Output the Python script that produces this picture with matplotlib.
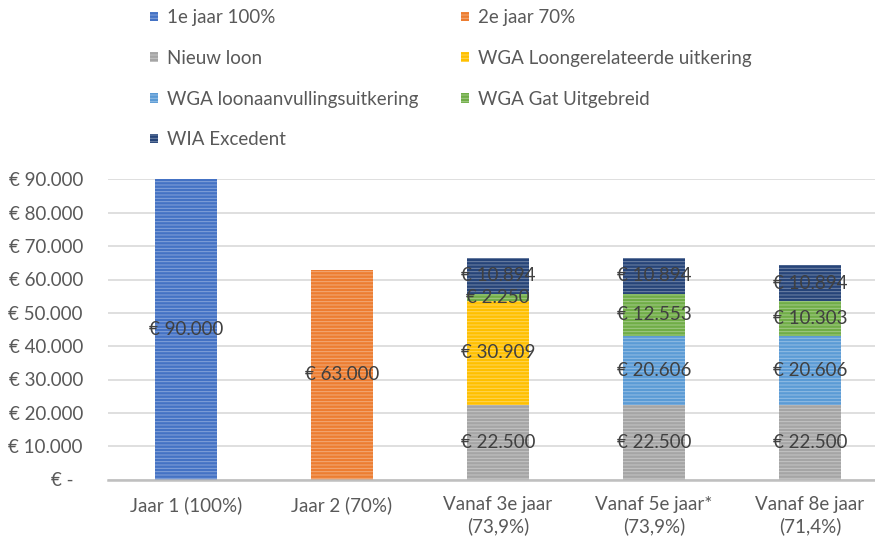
import numpy as np
import matplotlib.pyplot as plt
from matplotlib.colors import to_rgb

categories = ["Jaar 1 (100%)", "Jaar 2 (70%)", "Vanaf 3e jaar\n(73,9%)",
              "Vanaf 5e jaar*\n(73,9%)", "Vanaf 8e jaar\n(71,4%)"]

jaar1 = [90000, 0, 0, 0, 0]
jaar2 = [0, 63000, 0, 0, 0]
nieuw_loon = [0, 0, 22500, 22500, 22500]
wga_loongerelateerd = [0, 0, 30909, 0, 0]
wga_loonaanvulling = [0, 0, 0, 20606, 20606]
wga_gat = [0, 0, 2250, 12553, 10303]
wia_excedent = [0, 0, 10894, 10894, 10894]

series = [
    ("1e jaar 100%", jaar1, "#4472C4"),
    ("2e jaar 70%", jaar2, "#ED7D31"),
    ("Nieuw loon", nieuw_loon, "#A5A5A5"),
    ("WGA Loongerelateerde uitkering", wga_loongerelateerd, "#FFC000"),
    ("WGA loonaanvullingsuitkering", wga_loonaanvulling, "#5B9BD5"),
    ("WGA Gat Uitgebreid", wga_gat, "#70AD47"),
    ("WIA Excedent", wia_excedent, "#264478"),
]

y_ticks = list(range(0, 90001, 10000))


def euro(v):
    if v == 0:
        return "€ -  "
    return "€ " + f"{v:,.0f}".replace(",", ".")


def lighter(c, f):
    r, g, b = to_rgb(c)
    return (r + (1 - r) * f, g + (1 - g) * f, b + (1 - b) * f)


plt.rcParams["font.family"] = ["Lato", "DejaVu Sans"]
plt.rcParams["hatch.linewidth"] = 0.7
text_col = "#595959"

fig = plt.figure(figsize=(8.75, 5.42), dpi=100)
ax = fig.add_axes([108 / 875, 62.5 / 542, 767 / 875, 300 / 542])

x = np.arange(len(categories))
bottom = np.zeros(len(categories))
handles = {}
for name, vals, col in series:
    vals = np.array(vals, dtype=float)
    bars = ax.bar(x, vals, 0.4, bottom=bottom, color=col, edgecolor=lighter(col, 0.35),
                  linewidth=0, hatch="-----", label=name, zorder=2)
    labels = [euro(v) if v > 0 else "" for v in vals]
    ax.bar_label(bars, labels=labels, label_type="center", fontsize=13.5, color="#404040")
    bottom += vals
    handles[name] = bars

ax.set_xlim(-0.5, 4.417)
ax.set_ylim(0, 90000)
ax.set_yticks(y_ticks)
ax.set_yticklabels([euro(v) for v in y_ticks])
ax.set_xticks(x)
ax.set_xticklabels(categories, linespacing=1.3)
ax.tick_params(axis="y", length=0, pad=18, labelsize=13.5, labelcolor=text_col)
ax.tick_params(axis="x", length=0, pad=12, labelsize=13.5, labelcolor=text_col)
ax.grid(axis="y", color="#D9D9D9", linewidth=1.2, zorder=0)
ax.set_axisbelow(True)
for s in ["top", "right", "left"]:
    ax.spines[s].set_visible(False)
ax.spines["bottom"].set_color("#BFBFBF")
ax.spines["bottom"].set_linewidth(1.8)

order = ["1e jaar 100%", "Nieuw loon", "WGA loonaanvullingsuitkering", "WIA Excedent",
         "2e jaar 70%", "WGA Loongerelateerde uitkering", "WGA Gat Uitgebreid"]
fig.legend([handles[n] for n in order], order, loc="upper left",
           bbox_to_anchor=(150 / 875, 1 - 9 / 542), ncol=2, frameon=False,
           fontsize=13.5, labelcolor=text_col, handlelength=0.4, handleheight=0.4,
           handletextpad=0.5, labelspacing=1.27, columnspacing=2.3, borderpad=0,
           borderaxespad=0)

fig.savefig("out.png", dpi=100)
